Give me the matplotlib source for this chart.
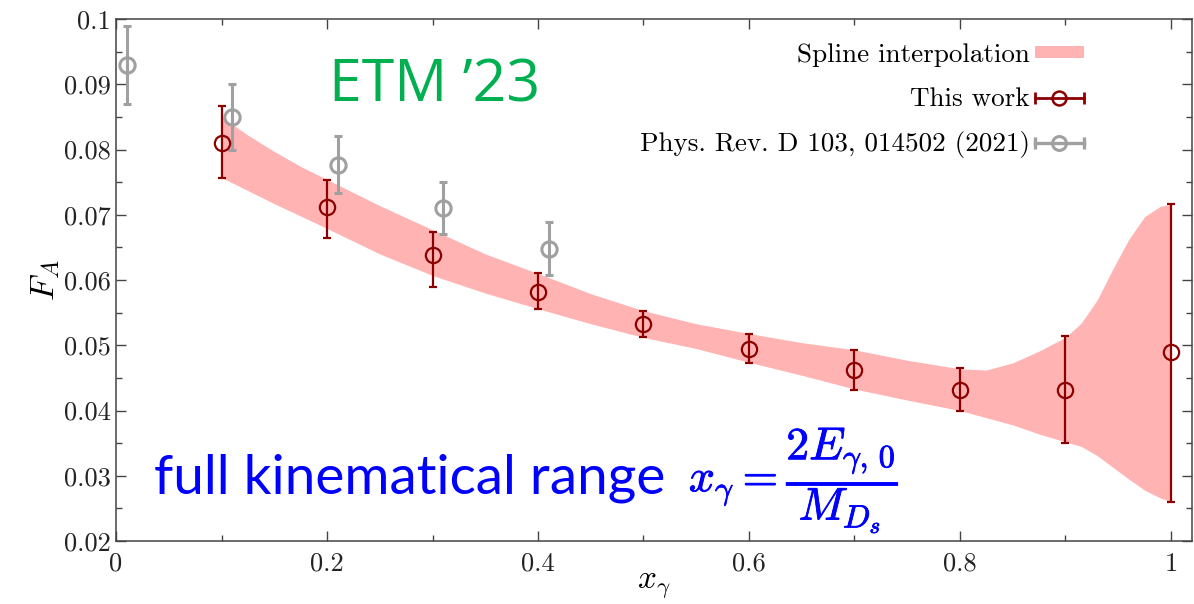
import matplotlib
matplotlib.use('Agg')
import matplotlib.pyplot as plt
import matplotlib.patheffects as pe
from matplotlib.ticker import MultipleLocator
from matplotlib.lines import Line2D
from matplotlib.patches import Patch
from matplotlib.legend_handler import HandlerTuple, HandlerLine2D

plt.rcParams['font.family'] = 'serif'
plt.rcParams['font.serif'] = ['cmr10']
plt.rcParams['mathtext.fontset'] = 'cm'
plt.rcParams['axes.formatter.use_mathtext'] = True

# This work
x_this = [0.1, 0.2, 0.3, 0.4, 0.5, 0.6, 0.7, 0.8, 0.9, 1.0]
fa_this = [0.0810, 0.0712, 0.0639, 0.0581, 0.0532, 0.0495, 0.0462, 0.0432, 0.0432, 0.0489]
err_lo_this = [0.0053, 0.0047, 0.0050, 0.0026, 0.0020, 0.0022, 0.0031, 0.0032, 0.0082, 0.0229]
err_hi_this = [0.0056, 0.0042, 0.0034, 0.0030, 0.0021, 0.0023, 0.0030, 0.0033, 0.0082, 0.0228]

# Phys. Rev. D 103, 014502 (2021)
x_prd = [0.01, 0.11, 0.21, 0.31, 0.41]
fa_prd = [0.0930, 0.0850, 0.0777, 0.0710, 0.0648]
err_prd = [0.0060, 0.0050, 0.0043, 0.0040, 0.0041]

# spline band edges
x_band = [0.1, 0.125, 0.15, 0.175, 0.2, 0.25, 0.3, 0.35, 0.4, 0.45, 0.5, 0.55, 0.6, 0.65, 0.7,
          0.75, 0.8, 0.825, 0.85, 0.875, 0.9, 0.915, 0.93, 0.945, 0.96, 0.975, 0.99, 1.0]
band_hi = [0.0850, 0.0822, 0.0797, 0.0774, 0.0754, 0.0714, 0.0677, 0.0640, 0.0610, 0.0579,
           0.0553, 0.0533, 0.0518, 0.0504, 0.0493, 0.0477, 0.0464, 0.0462, 0.0473, 0.0491,
           0.0512, 0.0534, 0.0569, 0.0617, 0.0662, 0.0697, 0.0713, 0.0716]
band_lo = [0.0757, 0.0737, 0.0717, 0.0698, 0.0679, 0.0640, 0.0607, 0.0580, 0.0556, 0.0533,
           0.0512, 0.0495, 0.0474, 0.0454, 0.0433, 0.0416, 0.0400, 0.0389, 0.0378, 0.0364,
           0.0352, 0.0345, 0.0331, 0.0313, 0.0295, 0.0278, 0.0266, 0.0260]

red = '#8c0000'
grey = '#a0a0a0'
pink = '#ffb3b3'

fig = plt.figure(figsize=(11.94, 6.04), dpi=100)
ax = fig.add_axes([0.0972, 0.1043, 0.9011, 0.8642])

ax.fill_between(x_band, band_lo, band_hi, color=pink, lw=0)
ax.errorbar(x_this, fa_this, yerr=[err_lo_this, err_hi_this], fmt='o', color=red,
            mfc='none', mec=red, ms=11, mew=1.6, elinewidth=1.6, capsize=3, capthick=1.6,
            zorder=4)
ax.errorbar(x_prd, fa_prd, yerr=err_prd, fmt='o', color=grey,
            mfc='none', mec=grey, ms=11, mew=2.2, elinewidth=2.2, capsize=3, capthick=2.2,
            zorder=3)

ax.set_xlim(0, 1.02)
ax.set_ylim(0.02, 0.1)
ax.xaxis.set_minor_locator(MultipleLocator(0.1))
ax.yaxis.set_minor_locator(MultipleLocator(0.005))
ax.set_xticks([0, 0.2, 0.4, 0.6, 0.8, 1.0])
ax.set_xticklabels(['0', '0.2', '0.4', '0.6', '0.8', '1'])
ax.set_yticks([0.02, 0.03, 0.04, 0.05, 0.06, 0.07, 0.08, 0.09, 0.1])
ax.set_yticklabels(['0.02', '0.03', '0.04', '0.05', '0.06', '0.07', '0.08', '0.09', '0.1'])
ax.tick_params(which='both', direction='in', top=True, right=True, labelsize=19,
               color='#444444', labelcolor='#222222')
ax.tick_params(which='major', length=7, width=1)
ax.tick_params(which='minor', length=4, width=1)
ax.tick_params(axis='x', pad=8)
for s in ax.spines.values():
    s.set_color('#444444')
    s.set_linewidth(1.1)

ax.set_xlabel(r'$x_\gamma$', fontsize=24, labelpad=-3)
ax.set_ylabel(r'$F_A$', fontsize=25, labelpad=2)

# legend handles: horizontal error bars
band_h = Patch(facecolor=pink, edgecolor='none')
red_line = Line2D([], [], color=red, lw=2, marker='o', mfc='none', mec=red, ms=10, mew=1.8)
red_caps = Line2D([], [], color=red, lw=0, marker='|', ms=8, mew=2)
grey_line = Line2D([], [], color=grey, lw=2.4, marker='o', mfc='none', mec=grey, ms=10, mew=2.2)
grey_caps = Line2D([], [], color=grey, lw=0, marker='|', ms=8, mew=2.4)
caps_handler = HandlerLine2D(numpoints=2, marker_pad=0.0)
leg = ax.legend([band_h, (red_line, red_caps), (grey_line, grey_caps)],
                ['Spline interpolation', 'This work', 'Phys. Rev. D 103, 014502 (2021)'],
                loc='upper right', bbox_to_anchor=(0.922, 1.0), frameon=False,
                markerfirst=False, fontsize=19.5, handlelength=1.8, handleheight=0.3,
                labelspacing=0.74, handletextpad=0.2, numpoints=1,
                handler_map={tuple: HandlerTuple(ndivide=1),
                             red_caps: caps_handler, grey_caps: caps_handler})

ax.text(0.302, 0.0897, "ETM \u201923", fontsize=42.5,
        color='#00b050', family='Open Sans', ha='center', va='center')
ax.text(0.036, 0.0296, 'full kinematical range', fontsize=39.5, color='#0000ff',
        family='Lato', ha='left', va='center')
ax.text(0.543, 0.0294, r'$x_\gamma = \dfrac{2E_{\gamma,\,0}}{M_{D_s}}$', fontsize=33,
        color='#0000ff', ha='left', va='center',
        path_effects=[pe.withStroke(linewidth=0.6, foreground='#0000ff')])

fig.savefig('out.png', dpi=100)
